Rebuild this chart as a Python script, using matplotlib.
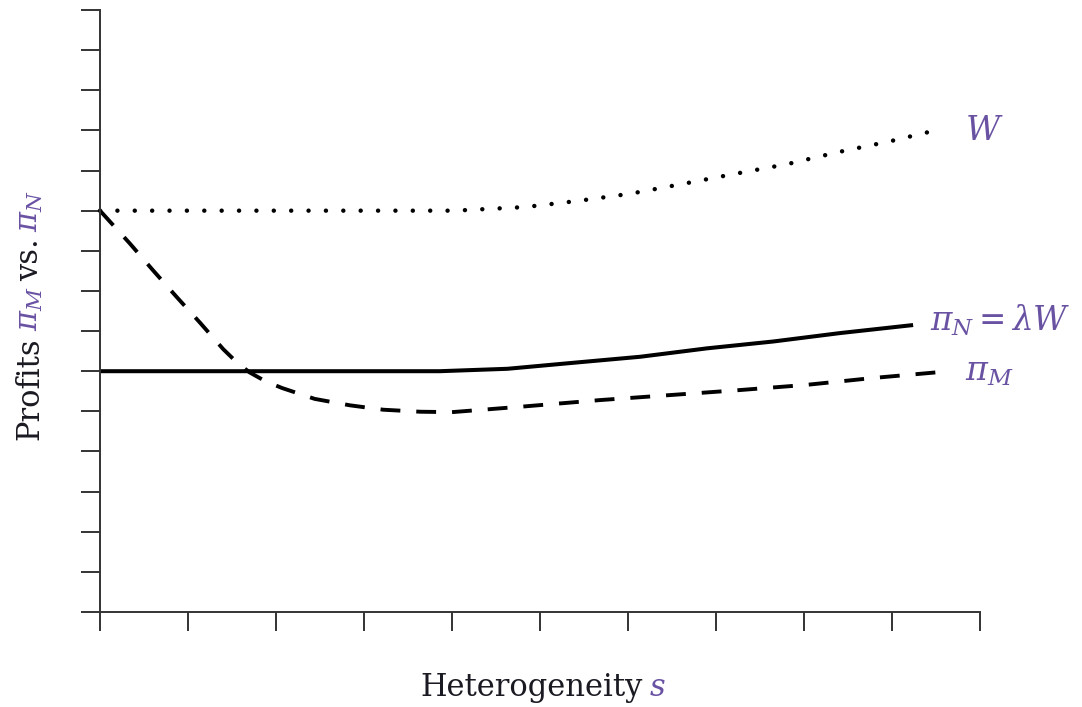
import numpy as np
import matplotlib
matplotlib.use("Agg")
import matplotlib.pyplot as plt
from matplotlib import transforms

plt.rcParams['font.family'] = ['DejaVu Serif']
plt.rcParams['mathtext.fontset'] = 'dejavuserif'

# heterogeneity s and the three curves
s_W = [0.0, 1.0, 2.0, 3.0, 4.03, 4.83, 5.42, 6.02, 6.63, 7.22, 7.81, 8.39,
       8.98, 9.57]
W = [10.0, 10.0, 10.0, 10.0, 10.0, 10.09, 10.24, 10.42, 10.67, 10.92, 11.16,
     11.46, 11.73, 12.04]

s_N = [0.0, 1.0, 2.0, 3.0, 3.86, 4.63, 5.38, 6.14, 6.9, 7.65, 8.41, 9.24]
pi_N = [6.0, 6.0, 6.0, 6.0, 6.0, 6.06, 6.21, 6.36, 6.57, 6.74, 6.95, 7.15]

s_M = [0.0, 0.34, 0.6, 0.875, 1.14, 1.4, 1.55, 1.7, 1.88, 2.07, 2.44, 2.84,
       3.22, 3.64, 4.0, 4.81, 5.68, 6.51, 7.27, 8.03, 8.78, 9.55]
pi_M = [10.0, 9.18, 8.52, 7.84, 7.2, 6.55, 6.23, 5.97, 5.75, 5.58, 5.31, 5.15,
        5.04, 4.99, 4.98, 5.12, 5.28, 5.41, 5.53, 5.66, 5.83, 5.98]

x_ticks = list(range(0, 11))
y_ticks = list(range(0, 16))

PURPLE = '#6a52a3'
INK = '#1a1a22'


def rainbow_text(fig, x, y, pieces, rotation=0, gap=7, **kw):
    # draw pieces one after the other, each in its own colour
    renderer = fig.canvas.get_renderer()
    t = fig.transFigure
    for s, c in pieces:
        txt = fig.text(x, y, s, color=c, transform=t, rotation=rotation,
                       rotation_mode='anchor', ha='left', va='baseline', **kw)
        txt.draw(renderer)
        ex = txt.get_window_extent(renderer)
        if rotation == 0:
            t = transforms.offset_copy(txt.get_transform(), fig=fig,
                                       x=ex.width + gap, units='dots')
        else:
            t = transforms.offset_copy(txt.get_transform(), fig=fig,
                                       y=ex.height + gap, units='dots')


def main():
    W_px, H_px = 1082, 707
    fig = plt.figure(figsize=(W_px / 100, H_px / 100), dpi=100)
    ax = fig.add_axes([100 / W_px, 1 - 612 / H_px, 880 / W_px, 602 / H_px])

    ax.plot(s_W, W, color='black', lw=3.2, linestyle=(0, (0.01, 3.9)),
            dash_capstyle='round', clip_on=False)
    ax.plot(s_N, pi_N, color='black', lw=2.9, solid_capstyle='butt',
            solid_joinstyle='round', clip_on=False)
    ax.plot(s_M, pi_M, color='black', lw=2.8, linestyle=(0, (5.1, 4.1)),
            dash_joinstyle='round', clip_on=False)

    ax.set_xlim(0, 10)
    ax.set_ylim(0, 15)
    ax.set_xticks(x_ticks)
    ax.set_yticks(y_ticks)
    ax.set_xticklabels([])
    ax.set_yticklabels([])
    ax.tick_params(direction='out', length=14, width=1.4, color='#333333')
    for side in ['top', 'right']:
        ax.spines[side].set_visible(False)
    for side in ['left', 'bottom']:
        ax.spines[side].set_linewidth(1.4)
        ax.spines[side].set_color('#333333')

    # curve labels
    ax.text(9.83, 11.75, r'$W$', color=PURPLE, fontsize=24, va='baseline')
    ax.text(9.43, 7.0, r'$\pi_N = \lambda W$', color=PURPLE, fontsize=23.5,
            va='baseline')
    ax.text(9.83, 5.77, r'$\pi_M$', color=PURPLE, fontsize=24, va='baseline')

    # axis labels
    rainbow_text(fig, 420 / W_px, 1 - 696 / H_px,
                 [('Heterogeneity', INK), (r'$s$', PURPLE)], fontsize=22)
    rainbow_text(fig, 38 / W_px, 1 - 440 / H_px,
                 [('Profits', INK), (r'$\pi_M$', PURPLE), ('vs.', INK),
                  (r'$\pi_N$', PURPLE)], rotation=90, gap=6, fontsize=22)

    fig.savefig('out.png', dpi=100)


if __name__ == '__main__':
    main()
